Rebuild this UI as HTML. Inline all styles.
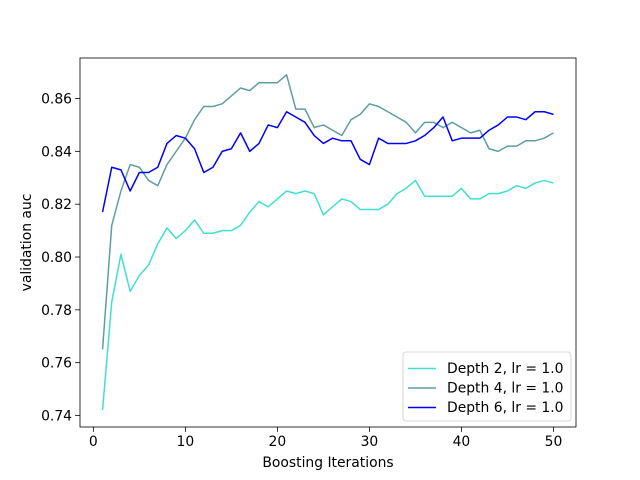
<!DOCTYPE html>
<html><head><meta charset="utf-8"><style>body{margin:0;background:#fff}svg{display:block;font-family:"DejaVu Sans","Liberation Sans",sans-serif}</style></head>
<body>
<svg id="chart" width="640" height="480"></svg>
<script>
const iterations=[];for(let i=1;i<=50;i++)iterations.push(i);
const depth2=[.742,.783,.801,.787,.793,.797,.805,.811,.807,.810,.814,.809,.809,.810,.810,.812,.817,.821,.819,.822,.825,.824,.825,.824,.816,.819,.822,.821,.818,.818,.818,.820,.824,.826,.829,.823,.823,.823,.823,.826,.822,.822,.824,.824,.825,.827,.826,.828,.829,.828];
const depth4=[.765,.812,.825,.835,.834,.829,.827,.835,.840,.845,.852,.857,.857,.858,.861,.864,.863,.866,.866,.866,.869,.856,.856,.849,.850,.848,.846,.852,.854,.858,.857,.855,.853,.851,.847,.851,.851,.849,.851,.849,.847,.848,.841,.840,.842,.842,.844,.844,.845,.847];
const depth6=[.817,.834,.833,.825,.832,.832,.834,.843,.846,.845,.841,.832,.834,.840,.841,.847,.840,.843,.850,.849,.855,.853,.851,.846,.843,.845,.844,.844,.837,.835,.845,.843,.843,.843,.844,.846,.849,.853,.844,.845,.845,.845,.848,.850,.853,.853,.852,.855,.855,.854];
const xTicks=[0,10,20,30,40,50];
const yTicks=[0.74,0.76,0.78,0.80,0.82,0.84,0.86];
const seriesNames=["Depth 2, lr = 1.0","Depth 4, lr = 1.0","Depth 6, lr = 1.0"];
const seriesColors=["#40e0d0","#5f9ea0","#0000ff"];
const L=80,R=576,T=58,B=427;
const all=depth2.concat(depth4,depth6);
const ymn=Math.min(...all),ymx=Math.max(...all),ym=(ymx-ymn)*0.05;
const y0=ymn-ym,y1=ymx+ym;
const xm=(50-1)*0.05,x0=1-xm,x1=50+xm;
const sx=v=>L+(v-x0)/(x1-x0)*(R-L);
const sy=v=>B-(v-y0)/(y1-y0)*(B-T);
const FS=13.9;
const svg=document.getElementById('chart');const NS='http://www.w3.org/2000/svg';
function mk(t,a,p){const e=document.createElementNS(NS,t);for(const k in a)e.setAttribute(k,a[k]);(p||svg).appendChild(e);return e;}
[depth2,depth4,depth6].forEach((s,i)=>{
 const p=mk('polyline',{points:s.map((v,j)=>sx(iterations[j])+','+sy(v)).join(' '),fill:'none',stroke:seriesColors[i],'stroke-width':1.5,'stroke-linejoin':'round'});
 
 
});
const fr=mk('rect',{x:L,y:T,width:R-L,height:B-T,fill:'none',stroke:'#000','stroke-width':0.8});

xTicks.forEach(v=>{const x=sx(v);mk('line',{x1:x,x2:x,y1:B,y2:B+4.9,stroke:'#000','stroke-width':0.8});
 const t=mk('text',{x:x,y:B+19,'text-anchor':'middle','font-size':FS});t.textContent=v;
 });
yTicks.forEach(v=>{const y=sy(v);mk('line',{x1:L-4.9,x2:L,y1:y,y2:y,stroke:'#000','stroke-width':0.8});
 const t=mk('text',{x:L-8,y:y+5,'text-anchor':'end','font-size':FS});t.textContent=v.toFixed(2);
 });
const xt=mk('text',{x:(L+R)/2,y:467,'text-anchor':'middle','font-size':FS});xt.textContent='Boosting Iterations';

const yt=mk('text',{x:0,y:0,'text-anchor':'middle','font-size':FS,transform:'translate(31,'+((T+B)/2)+') rotate(-90)'});yt.textContent='validation auc';

const lg=mk('g',{});
mk('rect',{x:403,y:352,width:168,height:69,rx:3,fill:'#fff','fill-opacity':0.8,stroke:'#ccc','stroke-width':0.8},lg);
seriesNames.forEach((n,i)=>{const y=373+i*19.5;
 mk('line',{x1:408,x2:436,y1:y-4.5,y2:y-4.5,stroke:seriesColors[i],'stroke-width':1.5},lg);
 const t=mk('text',{x:447,y:y,'font-size':FS},lg);t.textContent=n;
 });
</script>
</body></html>
